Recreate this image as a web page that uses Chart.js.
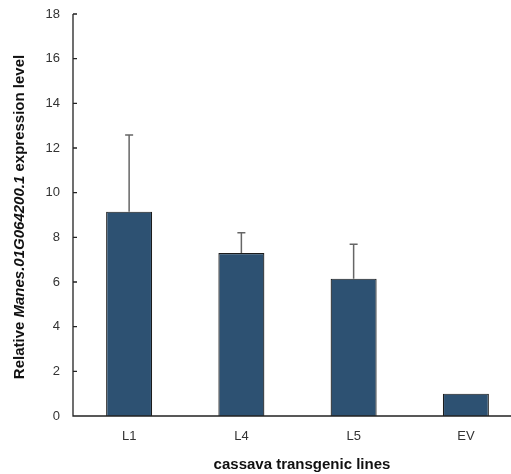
<!DOCTYPE html>
<html>
<head>
<meta charset="utf-8">
<script src="https://cdn.jsdelivr.net/npm/chart.js@4/dist/chart.umd.min.js"></script>
<style>
html,body{margin:0;padding:0;background:#fff;overflow:hidden;}
#wrap{width:530px;height:474px;}
</style>
</head>
<body>
<div id="wrap"><canvas id="c" width="530" height="474"></canvas></div>
<script>
// data
const lines=["L1","L4","L5","EV"];
const expression=[9.15,7.3,6.15,1.0];
const errUp=[3.43,0.91,1.54,0];
const yTicks=[0,2,4,6,8,10,12,14,16,18];

const axisColor="#333";
const labelFont="Liberation Sans, Arial, Helvetica, sans-serif";

// one-sided error bars + inward ticks + axis titles
const extras={
  id:"extras",
  afterDatasetsDraw(chart){
    const ctx=chart.ctx, y=chart.scales.y, x=chart.scales.x;
    const meta=chart.getDatasetMeta(0);
    ctx.save();
    ctx.strokeStyle="#666";
    ctx.lineWidth=1.5;
    meta.data.forEach((bar,i)=>{
      if(!errUp[i]) return;
      const top=y.getPixelForValue(expression[i]+errUp[i]);
      ctx.beginPath();
      ctx.moveTo(bar.x,bar.y);
      ctx.lineTo(bar.x,top);
      ctx.moveTo(bar.x-4,top);
      ctx.lineTo(bar.x+4,top);
      ctx.stroke();
    });
    // axes
    ctx.strokeStyle="#222";
    ctx.lineWidth=1.3;
    ctx.beginPath();
    ctx.moveTo(x.left,y.getPixelForValue(yTicks[yTicks.length-1]));
    ctx.lineTo(x.left,y.bottom);
    ctx.lineTo(chart.width,y.bottom);
    yTicks.forEach(v=>{
      const p=y.getPixelForValue(v);
      ctx.moveTo(x.left,p);
      ctx.lineTo(x.left+4,p);
    });
    ctx.stroke();
    // titles
    ctx.fillStyle="#111";
    ctx.textBaseline="middle";
    ctx.textAlign="center";
    ctx.font="bold 15px "+labelFont;
    ctx.fillText("cassava transgenic lines",302,465);
    const parts=[["Relative ","bold 15px "],["Manes.01G064200.1","italic bold 15px "],[" expression level","bold 15px "]];
    let total=0;
    parts.forEach(p=>{ctx.font=p[1]+labelFont;total+=ctx.measureText(p[0]).width;});
    ctx.translate(20,217);
    ctx.rotate(-Math.PI/2);
    ctx.textAlign="left";
    let cx=-total/2;
    parts.forEach(p=>{ctx.font=p[1]+labelFont;ctx.fillText(p[0],cx,0);cx+=ctx.measureText(p[0]).width;});
    ctx.restore();
  }
};

new Chart(document.getElementById("c"),{
  type:"bar",
  data:{labels:lines,datasets:[{
    data:expression,
    backgroundColor:"#2d5172",
    borderColor:"#1c1c1c",
    borderWidth:1.2,
    barPercentage:0.41,
    categoryPercentage:1
  }]},
  options:{
    responsive:false,
    animation:false,
    layout:{padding:{left:0,right:8,top:14,bottom:0}},
    plugins:{legend:{display:false},tooltip:{enabled:false}},
    scales:{
      x:{
        grid:{display:false,drawTicks:false},
        border:{display:false},
        ticks:{color:axisColor,padding:13,font:{family:labelFont,size:13}},
        afterFit:s=>{s.height=58;}
      },
      y:{
        min:0,max:18,
        grid:{display:false,drawTicks:false},
        border:{display:false},
        ticks:{stepSize:2,color:axisColor,padding:13,font:{family:labelFont,size:13}},
        afterFit:s=>{s.width=73;s.paddingTop=0;s.paddingBottom=0;}
      }
    }
  },
  plugins:[extras]
});
</script>
</body>
</html>
